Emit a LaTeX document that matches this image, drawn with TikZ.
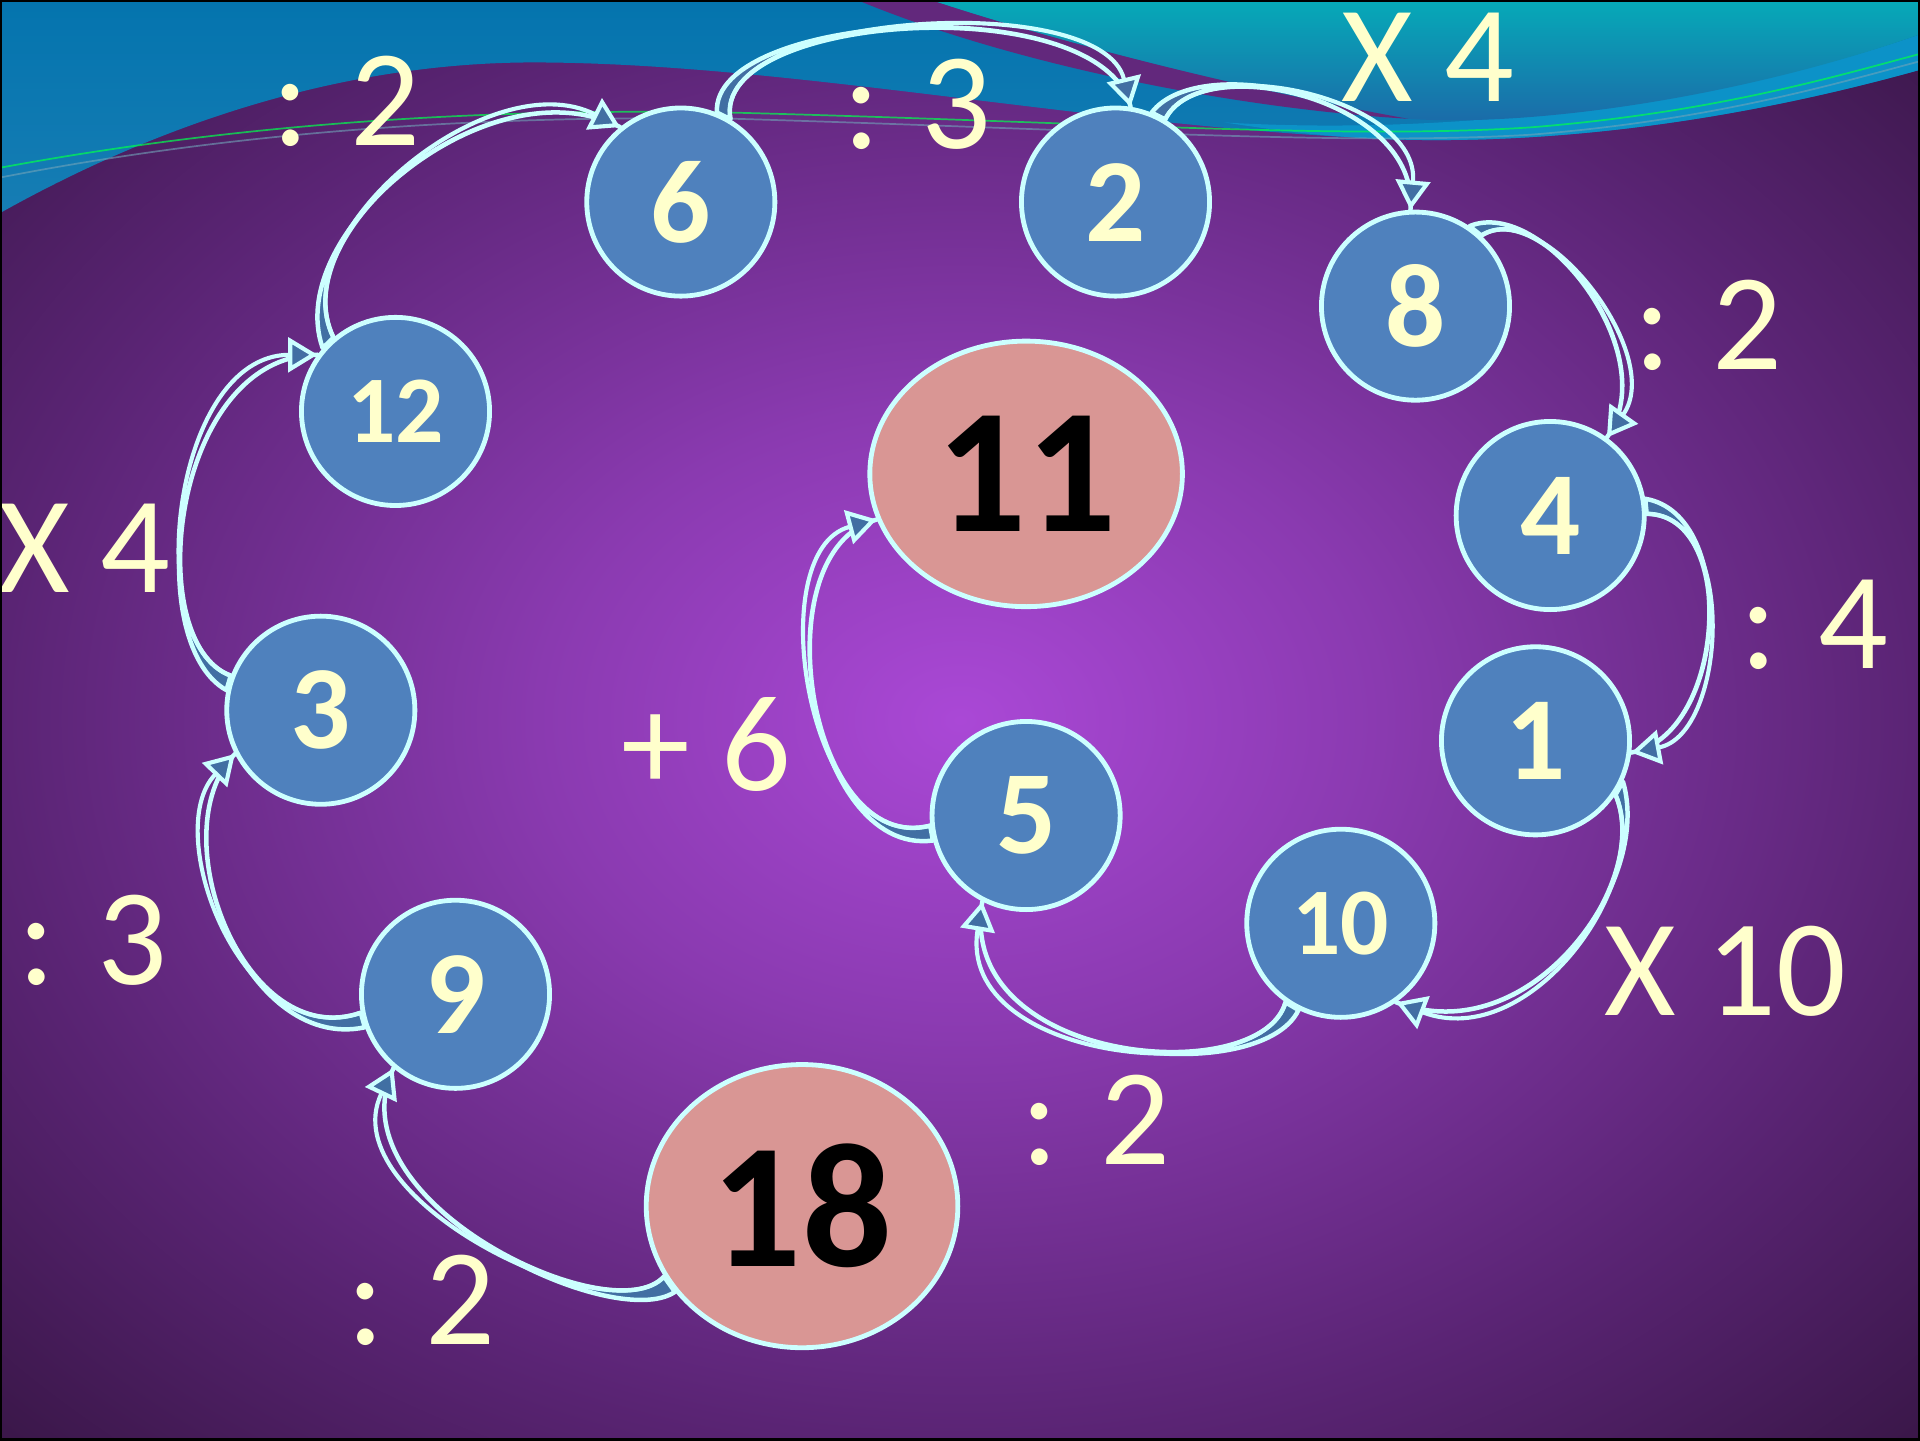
\documentclass[tikz,border=0pt]{standalone}
\usepackage{fontspec}
\setmainfont{Carlito}
\usepackage{tikz}
\usetikzlibrary{shapes.geometric,arrows.meta}

\definecolor{ballblue}{HTML}{4F81BD}
\definecolor{ballrim}{HTML}{CCFFFF}
\definecolor{ballink}{HTML}{FFFFCC}
\definecolor{rosefill}{HTML}{D99694}
\definecolor{hopblue}{HTML}{416FA3}
\definecolor{glowin}{HTML}{AA48D6}
\definecolor{glowmid}{HTML}{8A3AB0}
\definecolor{glowedge}{HTML}{5A2474}
\definecolor{glowout}{HTML}{381646}
\definecolor{seablue}{HTML}{0474AE}
\definecolor{seablue2}{HTML}{167DB4}
\definecolor{seateal}{HTML}{06AAB8}
\definecolor{seadeep}{HTML}{1C68A8}
\definecolor{seabright}{HTML}{0C92C8}
\definecolor{stripe}{HTML}{62287C}

\pgfdeclareradialshading{violetglow}{\pgfpoint{0bp}{0bp}}{%
  color(0bp)=(glowin); color(11bp)=(glowmid); color(25bp)=(glowedge);
  color(36bp)=(glowout); color(50bp)=(glowout)}

% ribbon arrow: start, second start, control 1, control 2, end
\newcommand{\hoparrow}[5]{%
  \filldraw[hopbody] (#1) .. controls (#3) and (#4) .. (#5)
    .. controls (#4) and (#3) .. (#2) -- cycle;
  \draw[hophead] (#1) .. controls (#3) and (#4) .. (#5);
}

\begin{document}
\begin{tikzpicture}[x=0.0125cm, y=-0.0125cm,
  numball/.style={circle, fill=ballblue, draw=ballrim, line width=1.4pt,
    minimum size=1.92cm, inner sep=0pt, text=ballink,
    font=\fontsize{34.5}{40}\selectfont\bfseries},
  twodigit/.style={font=\fontsize{27.7}{32}\selectfont\bfseries},
  bigball/.style={ellipse, fill=rosefill, draw=ballrim, line width=1.4pt,
    inner sep=0pt, text=black, font=\fontsize{51.6}{60}\selectfont\bfseries},
  oplabel/.style={text=ballink, inner sep=0pt, font=\fontsize{40}{48}\selectfont},
  hopbody/.style={fill=hopblue, draw=ballrim, line width=1.3pt, line join=round},
  hophead/.style={draw=ballrim, line width=1.2pt,
    -{Triangle[length=8.5pt,width=10pt,fill=hopblue]}}]

  % --- Background ---
  \useasboundingbox (0,0) rectangle (1568,1176);
  \clip (0,0) rectangle (1568,1176);
  \shade[shading=violetglow] (0,0) rectangle (1568,1176);

  % blue wave, top left
  \shade[top color=seablue, bottom color=seablue2]
    (0,0) -- (1568,0) -- (1568,57)
    .. controls (1450,90) and (1300,118) .. (1143,114)
    .. controls (900,105) and (650,52) .. (441,51)
    .. controls (300,50) and (150,90) .. (0,174) -- cycle;
  % lighter band, right
  \fill[seabright]
    (1000,100) .. controls (1200,112) and (1420,80) .. (1568,28) -- (1568,57)
    .. controls (1450,90) and (1300,118) .. (1143,114)
    .. controls (1080,112) and (1040,106) .. (1000,100) -- cycle;
  % teal, top right
  \shade[top color=seateal, bottom color=seadeep]
    (760,0) -- (1568,0) -- (1568,28)
    .. controls (1420,80) and (1250,104) .. (1150,97)
    .. controls (1000,70) and (850,30) .. (760,0) -- cycle;
  % purple stripe
  \fill[stripe]
    (700,0) -- (760,0) .. controls (850,30) and (1000,70) .. (1150,97)
    .. controls (1000,88) and (820,50) .. (700,0) -- cycle;
  % thin lines
  \draw[line width=0.5pt, green!70!cyan, opacity=0.7]
    (0,137) .. controls (200,100) and (400,88) .. (600,92)
    .. controls (900,100) and (1100,114) .. (1250,104)
    .. controls (1400,92) and (1500,62) .. (1568,44);
  \draw[line width=0.5pt, gray!60!cyan, opacity=0.6]
    (0,145) .. controls (200,106) and (400,94) .. (600,97)
    .. controls (900,106) and (1100,119) .. (1250,110)
    .. controls (1400,98) and (1500,68) .. (1568,50);

  % --- Numbers ---
  \node[numball] (n6) at (556,165) {6};
  \node[numball] (n2) at (911,165) {2};
  \node[numball] (n8) at (1156,250) {8};
  \node[numball, twodigit] (n12) at (323,336) {12};
  \node[bigball, minimum width=3.19cm, minimum height=2.71cm] (n11) at (838,387) {11};
  \node[numball] (n4) at (1266,421) {4};
  \node[numball] (n3) at (262,580) {3};
  \node[numball] (n1) at (1254,605) {1};
  \node[numball] (n5) at (838,666) {5};
  \node[numball, twodigit] (n10) at (1095,754) {10};
  \node[numball] (n9) at (372,812) {9};
  \node[bigball, minimum width=3.18cm, minimum height=2.89cm] (n18) at (655,985) {18};

  % --- Curved arrows ---
  \hoparrow{n18.207}{n18.214}{500,1090}{270,980}{n9.230}
  \hoparrow{n9.191}{n9.200}{200,860}{130,680}{n3.207}
  \hoparrow{n3.159}{n3.168}{115,525}{140,290}{n12.144}
  \hoparrow{n12.130}{n12.139}{230,190}{400,50}{n6.129}
  \hoparrow{n6.59}{n6.68}{580,10}{900,-10}{n2.81}
  \hoparrow{n2.59}{n2.68}{980,40}{1160,80}{n8.93}
  \hoparrow{n8.47}{n8.56}{1260,160}{1360,290}{n4.54}
  \hoparrow{n4.1}{n4.10}{1420,420}{1410,600}{n1.353}
  \hoparrow{n1.326}{n1.335}{1350,720}{1250,860}{n10.305}
  \hoparrow{n10.235}{n10.244}{1030,890}{780,870}{n5.243}
  \hoparrow{n5.186}{n5.195}{660,700}{620,450}{n11.197}

  % --- Operations ---
  \node[oplabel] (op1) at (283,83) {: 2};
  \node[oplabel] (op2) at (749,85) {: 3};
  \node[oplabel] (op3) at (1166,47) {X 4};
  \node[oplabel] (op4) at (1395,266) {: 2};
  \node[oplabel] (op5) at (69,448) {X 4};
  \node[oplabel] (op6) at (1482,510) {: 4};
  \node[oplabel] (op7) at (577,608) {+ 6};
  \node[oplabel] (op8) at (76,768) {: 3};
  \node[oplabel] (op9) at (1409,793) {X 10};
  \node[oplabel] (op10) at (895,915) {: 2};
  \node[oplabel] (op11) at (344,1062) {: 2};

  % frame
  \draw[black, line width=1pt] (0,0) rectangle (1568,1176);
\end{tikzpicture}
\end{document}
